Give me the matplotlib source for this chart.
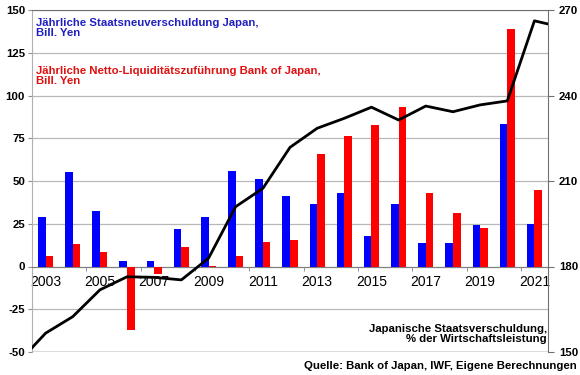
import matplotlib
matplotlib.use("Agg")
import matplotlib.pyplot as plt
import numpy as np

plt.rcParams['font.family'] = ['Liberation Sans', 'DejaVu Sans']

years = list(range(2003, 2022))
new_debt = [29.1, 55.2, 32.2, 3.1, 3.5, 22.0, 29.1, 55.7, 51.3, 41.5, 36.7, 43.1,
            17.7, 36.8, 13.8, 13.8, 24.0, 83.6, 25.1]
boj_liquidity = [6.0, 12.9, 8.6, -37.4, -4.3, 11.3, 0.3, 6.0, 14.4, 15.4, 65.9, 76.2,
                 83.0, 93.4, 42.7, 31.0, 22.6, 139.0, 44.6]
# government debt, % of GDP (right axis); first/last values at the plot edges
debt_years = [2002.5] + years + [2021.5]
debt_ratio = [151.5, 156.6, 162.4, 171.8, 176.4, 176.2, 175.3, 182.9, 201.0, 207.4,
              221.8, 228.5, 232.0, 235.9, 231.4, 236.3, 234.3, 236.7, 238.1, 266.2, 265.1]

left_ticks = [-50, -25, 0, 25, 50, 75, 100, 125, 150]
right_ticks = [150, 180, 210, 240, 270]

BLUE = '#0000FF'
RED = '#FF0000'
FS = 8.2

fig = plt.figure(figsize=(5.8, 3.75), dpi=100)
ax = fig.add_axes([32/580, 23/375, 516/580, 342/375])

x = np.arange(len(years))
w = 0.28
ax.bar(x - w/2, new_debt, width=w, color=BLUE, zorder=3)
ax.bar(x + w/2, boj_liquidity, width=w, color=RED, zorder=3)

ax.set_xlim(-0.5, len(years) - 0.5)
ax.set_ylim(-50, 150)
ax.set_yticks(left_ticks)
ax.set_yticklabels([str(v) for v in left_ticks], fontsize=FS, fontweight='bold')
ax.grid(axis='y', color='#b8b8b8', linewidth=0.9, zorder=0)
ax.tick_params(axis='y', length=3, color='#909090', pad=2)

ax.set_xticks(x[::2])
ax.set_xticklabels([str(y) for y in years[::2]], fontsize=FS, fontweight='bold')
ax.set_xticks(np.arange(1.5, len(years) - 0.5, 2), minor=True)
ax.tick_params(axis='x', which='major', length=0, pad=6)
ax.tick_params(axis='x', which='minor', length=3, color='#808080', direction='out')

ax.spines['bottom'].set_position(('data', 0))
ax.spines['bottom'].set_color('#808080')
ax.spines['left'].set_color('#b0b0b0')
ax.spines['top'].set_color('#707070')
ax.spines['right'].set_visible(False)
ax.axhline(-50, color='#707070', linewidth=1.0, zorder=2)

ax2 = ax.twinx()
ax2.plot(np.array(debt_years) - years[0], debt_ratio, color='black', linewidth=2.0, zorder=5)
ax2.set_ylim(150, 270)
ax2.set_yticks(right_ticks)
ax2.set_yticklabels([str(v) for v in right_ticks], fontsize=FS, fontweight='bold')
ax2.tick_params(axis='y', length=4, color='#707070', pad=4)
ax2.spines['right'].set_color('#707070')
for s in ['top', 'left', 'bottom']:
    ax2.spines[s].set_visible(False)

fig.text(36/580, 1 - 28/375, 'Jährliche Staatsneuverschuldung Japan,\nBill. Yen',
         color='#2020C0', fontsize=FS, fontweight='bold', va='center', ha='left',
         linespacing=1.0)
fig.text(36/580, 1 - 76/375, 'Jährliche Netto-Liquiditätszuführung Bank of Japan,\nBill. Yen',
         color='#E01010', fontsize=FS, fontweight='bold', va='center', ha='left',
         linespacing=1.0)
fig.text(547/580, 1 - 334/375, 'Japanische Staatsverschuldung,\n% der Wirtschaftsleistung',
         color='black', fontsize=FS, fontweight='bold', va='center', ha='right',
         multialignment='right', linespacing=1.05)
fig.text(577/580, 1 - 366/375, 'Quelle: Bank of Japan, IWF, Eigene Berechnungen',
         color='black', fontsize=FS, fontweight='bold', va='center', ha='right')

fig.savefig('out.png', dpi=100)
